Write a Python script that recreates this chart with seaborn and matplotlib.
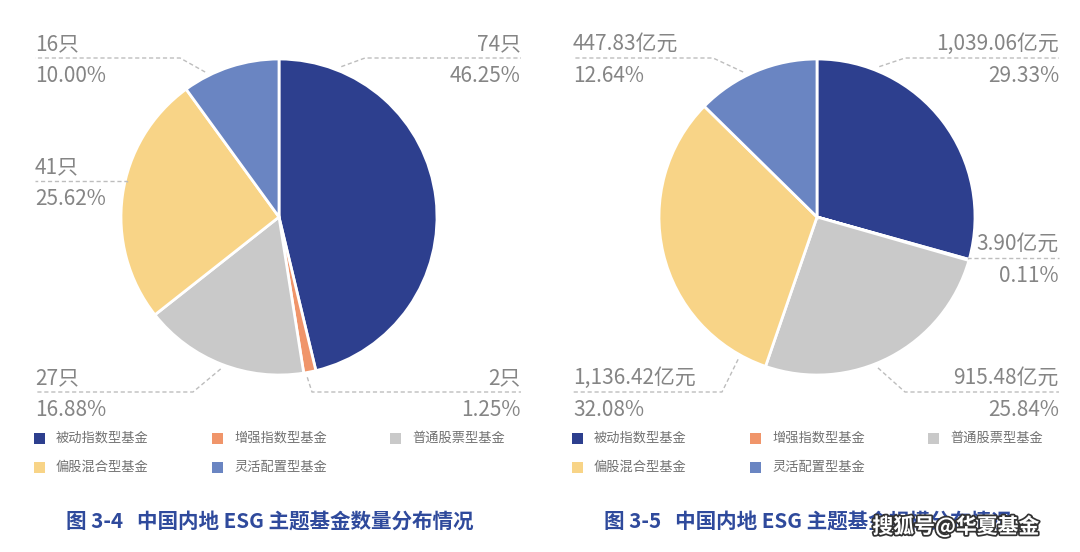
import numpy as np
import matplotlib.pyplot as plt
import matplotlib.patheffects as pe
from matplotlib.patches import Rectangle
import seaborn as sns

# Data
categories = ['被动指数型基金', '增强指数型基金', '普通股票型基金', '偏股混合型基金', '灵活配置型基金']
fund_counts = [74, 2, 27, 41, 16]          # 只
count_pct = [46.25, 1.25, 16.88, 25.62, 10.00]
fund_sizes = [1039.06, 3.90, 915.48, 1136.42, 447.83]   # 亿元
size_pct = [29.33, 0.11, 25.84, 32.08, 12.64]
titles = ['图 3-4   中国内地 ESG 主题基金数量分布情况',
          '图 3-5   中国内地 ESG 主题基金规模分布情况']

# Style
sns.set_theme(style="white")
plt.rcParams['font.family'] = ['Noto Sans CJK SC', 'DejaVu Sans']
colors = ['#2d3f8e', '#f0956a', '#c9c9c9', '#f8d487', '#6a85c2']
label_color = '#858585'
line_color = '#bdbdbd'
title_color = '#2f4a9c'

W, H = 1080, 552
fig = plt.figure(figsize=(W / 100, H / 100), dpi=100)
ax = fig.add_axes([0, 0, 1, 1])


def Y(py):
    # pixel row (top-down) -> data y (bottom-up)
    return H - py


R = 158
pies = [
    dict(cx=279, cy=217, values=fund_counts, pct=count_pct, fmt=lambda v: f"{v:d}只",
         # side, line y, anchor angle, elbow offset from center
         labels=[('R', 58, 67.5, 86), ('R', 392, -80, 33), ('L', 392, 249, -86),
                 ('L', 181, 167, None), ('L', 58, 117, -99)]),
    dict(cx=817, cy=217, values=fund_sizes, pct=size_pct, fmt=lambda v: f"{v:,.2f}亿元",
         labels=[('R', 58, 67.5, 88), ('R', 258, -15.5, None), ('R', 392, -68, 88),
                 ('L', 392, 241, -95), ('L', 58, 117, -104)]),
]

for k, p in enumerate(pies):
    cx, cy = p['cx'], Y(p['cy'])
    ax.pie(p['values'], colors=colors, startangle=90, counterclock=False,
           center=(cx, cy), radius=R, frame=True,
           wedgeprops=dict(edgecolor='white', linewidth=2))

    # leader lines and labels
    for i, (side, ly, ang, elbow) in enumerate(p['labels']):
        a = np.deg2rad(ang)
        rr = R * 1.03 if elbow is not None else R * 0.99
        axp = cx + rr * np.cos(a)
        ayp = cy + rr * np.sin(a)
        ex = cx + elbow if elbow is not None else axp
        lyd = Y(ly)
        if side == 'R':
            xe = p['cx'] + 242
            tx, ha = xe, 'right'
        else:
            xe = p['cx'] - 244
            tx, ha = xe, 'left'
        ax.plot([axp, ex, xe], [ayp, lyd, lyd], ls=(0, (3, 2)), lw=1, color=line_color)
        ax.text(tx, lyd + 3, p['fmt'](p['values'][i]), ha=ha, va='bottom',
                fontsize=15, fontweight='light', color=label_color)
        ax.text(tx, lyd - 7, f"{p['pct'][i]:.2f}%", ha=ha, va='top',
                fontsize=15, fontweight='light', color=label_color)

    # legend (row-major, 3 columns)
    x0 = p['cx'] - 245
    for i, (name, c) in enumerate(zip(categories, colors)):
        row, col = divmod(i, 3)
        lx = x0 + col * 178
        ly = Y(438 + row * 29)
        ax.add_patch(Rectangle((lx, ly - 5.5), 11, 11, color=c, lw=0))
        ax.text(lx + 22, ly, name, ha='left', va='center', fontsize=9.5, color='#707070')

    # caption
    ax.text(p['cx'] - 9, Y(521), titles[k], ha='center', va='center',
            fontsize=14.8, fontweight='bold', color=title_color)

# watermark
ax.text(956, Y(526), '搜狐号@华夏基金', ha='center', va='center', fontsize=15,
        fontweight='bold', color='white',
        path_effects=[pe.withStroke(linewidth=2.5, foreground='#333333')])

ax.set_xlim(0, W)
ax.set_ylim(0, H)
ax.set_aspect('auto')
ax.axis('off')

fig.savefig('out.png', dpi=100, facecolor='white')
